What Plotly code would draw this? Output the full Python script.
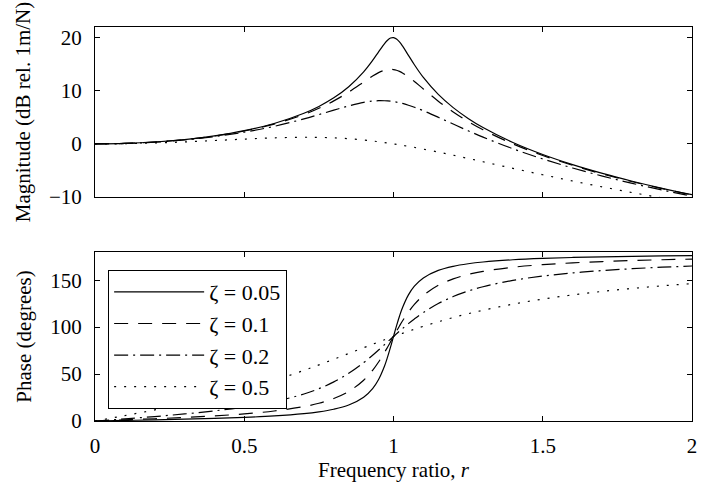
import plotly.graph_objects as go

# Frequency ratio samples (denser around resonance)
r = [0, 0.1, 0.2, 0.3, 0.4, 0.5, 0.6, 0.7, 0.75, 0.8, 0.85, 0.9, 0.93, 0.95,
     0.97, 0.98, 0.99, 1.0, 1.01, 1.02, 1.03, 1.05, 1.07, 1.1, 1.15, 1.2,
     1.25, 1.3, 1.4, 1.5, 1.6, 1.7, 1.8, 1.9, 2.0]

zeta_labels = ["ζ = 0.05", "ζ = 0.1", "ζ = 0.2", "ζ = 0.5"]

# Magnitude, dB rel. 1 m/N
mag_005 = [0.00, 0.09, 0.35, 0.81, 1.50, 2.48, 3.84, 5.77, 7.05, 8.66, 10.75,
           13.55, 15.70, 17.32, 18.89, 19.52, 19.92, 20.00, 19.74, 19.20, 18.44,
           16.67, 14.89, 12.50, 9.31, 6.82, 4.79, 3.07, 0.26, -2.00, -3.91,
           -5.56, -7.03, -8.36, -9.56]
mag_01 = [0.00, 0.09, 0.35, 0.80, 1.48, 2.42, 3.73, 5.53, 6.70, 8.09, 9.75,
          11.64, 12.77, 13.41, 13.86, 13.98, 14.02, 13.98, 13.85, 13.64, 13.36,
          12.63, 11.75, 10.34, 8.04, 6.00, 4.21, 2.65, 0.00, -2.18, -4.04,
          -5.67, -7.12, -8.42, -9.62]
mag_02 = [0.00, 0.08, 0.32, 0.74, 1.36, 2.20, 3.30, 4.70, 5.51, 6.35, 7.15,
          7.81, 8.05, 8.13, 8.12, 8.09, 8.04, 7.96, 7.86, 7.74, 7.61, 7.28,
          6.90, 6.24, 5.01, 3.73, 2.47, 1.27, -0.92, -2.84, -4.54, -6.06,
          -7.43, -8.69, -9.84]
mag_05 = [0.00, 0.04, 0.17, 0.37, 0.63, 0.90, 1.14, 1.25, 1.23, 1.14, 0.97,
          0.73, 0.54, 0.40, 0.25, 0.17, 0.09, 0.00, -0.09, -0.18, -0.27, -0.47,
          -0.67, -0.98, -1.54, -2.13, -2.74, -3.36, -4.60, -5.81, -6.98,
          -8.10, -9.17, -10.18, -11.14]

# Phase, degrees
ph_005 = [0.00, 0.58, 1.19, 1.89, 2.73, 3.81, 5.36, 7.82, 9.73, 12.53, 17.03,
          25.35, 34.54, 44.26, 58.65, 68.00, 78.63, 90.00, 101.26, 111.61,
          120.59, 134.31, 143.56, 152.35, 160.37, 164.74, 167.47, 169.33,
          171.70, 173.16, 174.14, 174.86, 175.41, 175.84, 176.19]
ph_01 = [0.00, 1.16, 2.39, 3.77, 5.44, 7.59, 10.62, 15.35, 18.92, 23.96, 31.49,
         43.45, 54.01, 62.83, 73.06, 78.58, 84.26, 90.00, 95.68, 101.20,
         106.47, 116.02, 124.10, 133.67, 144.51, 151.39, 156.04, 159.35,
         163.74, 166.50, 168.41, 169.80, 170.87, 171.72, 172.41]
ph_02 = [0.00, 2.31, 4.76, 7.51, 10.78, 14.93, 20.56, 28.77, 34.44, 41.63,
         50.78, 62.18, 70.04, 75.61, 81.34, 84.23, 87.12, 90.00, 92.85, 95.65,
         98.41, 103.72, 108.70, 115.51, 125.03, 132.51, 138.37, 143.00,
         149.74, 154.36, 157.69, 160.21, 162.18, 163.76, 165.07]
ph_05 = [0.00, 5.77, 11.77, 18.25, 25.46, 33.69, 43.15, 53.92, 59.74, 65.77,
         71.92, 78.08, 81.73, 84.14, 86.51, 87.69, 88.85, 90.00, 91.14, 92.27,
         93.38, 95.58, 97.71, 100.81, 105.67, 110.14, 114.23, 117.96, 124.44,
         129.81, 134.27, 138.03, 141.21, 143.95, 146.31]

x_ticks = [0, 0.5, 1, 1.5, 2]
x_ticktext = ["0", "0.5", "1", "1.5", "2"]
mag_ticks = [-10, 0, 10, 20]
phase_ticks = [0, 50, 100, 150]

mags = [mag_005, mag_01, mag_02, mag_05]
phases = [ph_005, ph_01, ph_02, ph_05]
dashes = ["solid", "14px,10px", "14px,5px,2px,5px", "2px,8px"]

FONT = "Liberation Serif, Times New Roman, serif"

fig = go.Figure()
for lab, m, d in zip(zeta_labels, mags, dashes):
    fig.add_trace(go.Scatter(x=r, y=m, mode="lines", name=lab, showlegend=False,
                             line=dict(color="black", width=1.2, dash=d, shape="spline"),
                             xaxis="x2", yaxis="y2"))
for lab, p, d in zip(zeta_labels, phases, dashes):
    fig.add_trace(go.Scatter(x=r, y=p, mode="lines", name=lab,
                             line=dict(color="black", width=1.2, dash=d, shape="spline"),
                             xaxis="x", yaxis="y"))

axis_common = dict(showline=True, linecolor="black", linewidth=1, mirror="allticks",
                   ticks="inside", ticklen=5, tickcolor="black", showgrid=False,
                   zeroline=False, tickfont=dict(family=FONT, size=21, color="black"))

fig.update_layout(
    width=704, height=488,
    margin=dict(l=95, r=7, t=27, b=67),
    paper_bgcolor="white", plot_bgcolor="white",
    font=dict(family=FONT, size=21, color="black"),
    xaxis=dict(domain=[0, 1], range=[0, 2], anchor="y", tickvals=x_ticks,
               ticktext=x_ticktext, ticklabelstandoff=6,
               title=dict(text="Frequency ratio, <i>r</i>", standoff=2,
                          font=dict(family=FONT, size=21)),
               **axis_common),
    yaxis=dict(domain=[0, 0.429], range=[0, 180], anchor="x", tickvals=phase_ticks,
               ticklabelstandoff=8,
               title=dict(text="Phase (degrees)", standoff=12,
                          font=dict(family=FONT, size=21)),
               **axis_common),
    xaxis2=dict(domain=[0, 1], range=[0, 2], anchor="y2", tickvals=x_ticks,
                showticklabels=False, **axis_common),
    yaxis2=dict(domain=[0.5685, 1], range=[-10, 22], anchor="x2", tickvals=mag_ticks,
                ticklabelstandoff=8,
                title=dict(text="Magnitude (dB rel. 1m/N)", standoff=12,
                           font=dict(family=FONT, size=21)),
                **axis_common),
    legend=dict(x=0.022, y=0.383, xanchor="left", yanchor="top",
                bgcolor="white", bordercolor="black", borderwidth=1,
                itemwidth=90,
                font=dict(family=FONT, size=22, color="black")),
)

fig.write_html("out.html")
